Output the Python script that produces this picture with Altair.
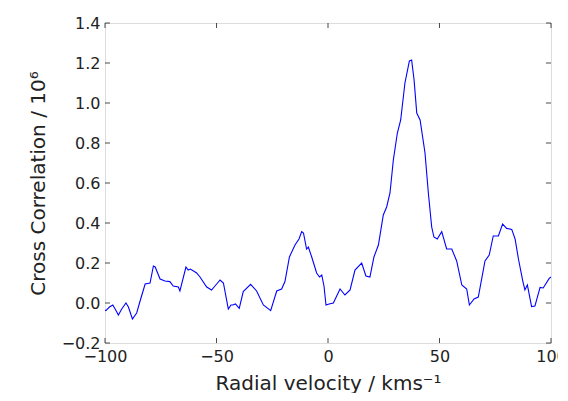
import altair as alt
import pandas as pd

velocity = [-100, -99.6, -98, -96.5, -95.2, -94, -92.5, -90.6, -89.5, -87.7, -85.8, -84, -82, -79.8,
            -78.3, -77.5, -75.3, -73.1, -70.9, -69.4, -67.1, -66.4, -63.7, -62.7, -61.7, -58.9, -57.4,
            -54.4, -52.2, -50.7, -48.4, -46.9, -44.7, -43.5, -42.7, -41.5, -39.8, -38, -34.7, -32, -29,
            -25.7, -23, -20.8, -19.3, -17.3, -14.8, -13, -11.8, -11, -9.6, -8.8, -7.3, -5.1, -3.8, -2.8,
            -1.8, -0.9, 0.5, 2.4, 5.4, 7.6, 9.9, 12.1, 15.1, 17, 18.8, 20.6, 22.6, 24.8, 26.3, 27.8,
            29.3, 31.1, 32.6, 34.5, 36.5, 37.5, 38.6, 39.8, 41.3, 43.5, 45, 46.5, 47.5, 49, 51, 53.2,
            55.5, 57.7, 60, 62.2, 63.4, 65.5, 67.4, 70.4, 72.3, 74.1, 76.4, 78.3, 80.1, 82.4, 83.9,
            85.4, 87.4, 88.3, 89.4, 91.3, 92.8, 95.1, 96.5, 99.2, 100]
correlation = [-0.035, -0.038, -0.02, -0.01, -0.035, -0.06, -0.03, 0.0, -0.02, -0.08, -0.05, 0.02, 0.095,
               0.1, 0.185, 0.18, 0.12, 0.11, 0.107, 0.085, 0.08, 0.06, 0.18, 0.165, 0.17, 0.15, 0.13,
               0.08, 0.065, 0.085, 0.115, 0.1, -0.03, -0.01, -0.01, -0.005, -0.027, 0.057, 0.093, 0.06,
               -0.01, -0.038, 0.06, 0.07, 0.107, 0.23, 0.29, 0.32, 0.357, 0.35, 0.27, 0.28, 0.23, 0.15,
               0.13, 0.14, 0.085, -0.01, -0.005, 0.0, 0.07, 0.04, 0.065, 0.165, 0.2, 0.135, 0.13, 0.23,
               0.29, 0.44, 0.48, 0.55, 0.715, 0.85, 0.915, 1.1, 1.21, 1.215, 1.115, 0.95, 0.915, 0.75,
               0.55, 0.38, 0.33, 0.32, 0.357, 0.27, 0.27, 0.21, 0.09, 0.07, -0.01, 0.02, 0.03, 0.21,
               0.24, 0.335, 0.335, 0.395, 0.373, 0.368, 0.32, 0.22, 0.107, 0.065, 0.09, -0.018, -0.015,
               0.078, 0.075, 0.123, 0.13]

x_ticks = [-100, -50, 0, 50, 100]
y_ticks = [-0.2, 0.0, 0.2, 0.4, 0.6, 0.8, 1.0, 1.2, 1.4]

df = pd.DataFrame({"v": velocity, "cc": correlation})
xt = pd.DataFrame({"t": x_ticks})
yt = pd.DataFrame({"t": y_ticks})

xscale = alt.Scale(domain=[-100, 100], nice=False, zero=False)
yscale = alt.Scale(domain=[-0.2, 1.4], nice=False, zero=False)

FONT = "DejaVu Sans"

xaxis = alt.Axis(values=x_ticks, format="d", title="Radial velocity / kms⁻¹",
                 tickSize=0, labelPadding=5, domain=False, grid=False,
                 labelFontSize=16, titleFontSize=20, labelFont=FONT, titleFont=FONT,
                 labelColor="#222", titleColor="#222", titleFontWeight="normal",
                 titleY=46, titleBaseline="alphabetic",
                 labelFlush=False, labelOverlap=False)
yaxis = alt.Axis(values=y_ticks, format=".1f", title="Cross Correlation / 10⁶",
                 tickSize=0, labelPadding=5, domain=False, grid=False,
                 labelFontSize=16, titleFontSize=20, labelFont=FONT, titleFont=FONT,
                 labelColor="#222", titleColor="#222", titleFontWeight="normal",
                 titleX=-67, titleY=160, titleAngle=-90, titleAlign="center",
                 titleBaseline="middle", labelFlush=False, labelOverlap=False)

line = alt.Chart(df).mark_line(color="#0000ff", strokeWidth=1.1, clip=True).encode(
    x=alt.X("v:Q", scale=xscale, axis=xaxis),
    y=alt.Y("cc:Q", scale=yscale, axis=yaxis),
)

tick_len = 5
bottom_ticks = alt.Chart(xt).mark_tick(orient="vertical", size=tick_len, yOffset=-tick_len / 2,
                                       color="#000", thickness=1).encode(
    x=alt.X("t:Q", scale=xscale, axis=xaxis), y=alt.datum(-0.2, scale=yscale, axis=yaxis))
top_ticks = alt.Chart(xt).mark_tick(orient="vertical", size=tick_len, yOffset=tick_len / 2,
                                    color="#000", thickness=1).encode(
    x=alt.X("t:Q", scale=xscale, axis=xaxis), y=alt.datum(1.4, scale=yscale, axis=yaxis))
left_ticks = alt.Chart(yt).mark_tick(orient="horizontal", size=tick_len, xOffset=tick_len / 2,
                                     color="#000", thickness=1).encode(
    y=alt.Y("t:Q", scale=yscale, axis=yaxis), x=alt.datum(-100, scale=xscale, axis=xaxis))
right_ticks = alt.Chart(yt).mark_tick(orient="horizontal", size=tick_len, xOffset=-tick_len / 2,
                                      color="#000", thickness=1).encode(
    y=alt.Y("t:Q", scale=yscale, axis=yaxis), x=alt.datum(100, scale=xscale, axis=xaxis))

chart = alt.layer(line, bottom_ticks, top_ticks, left_ticks, right_ticks).properties(
    width=446, height=320,
    autosize=alt.AutoSizeParams(type="none"),
    padding={"left": 97, "top": 15, "right": 7, "bottom": 50},
).configure_view(stroke="#000", strokeWidth=1.2).configure_axis(
    labelOverlap=False
).configure(background="white")

chart.save("out.html", embed_options={"renderer": "svg", "actions": False})
